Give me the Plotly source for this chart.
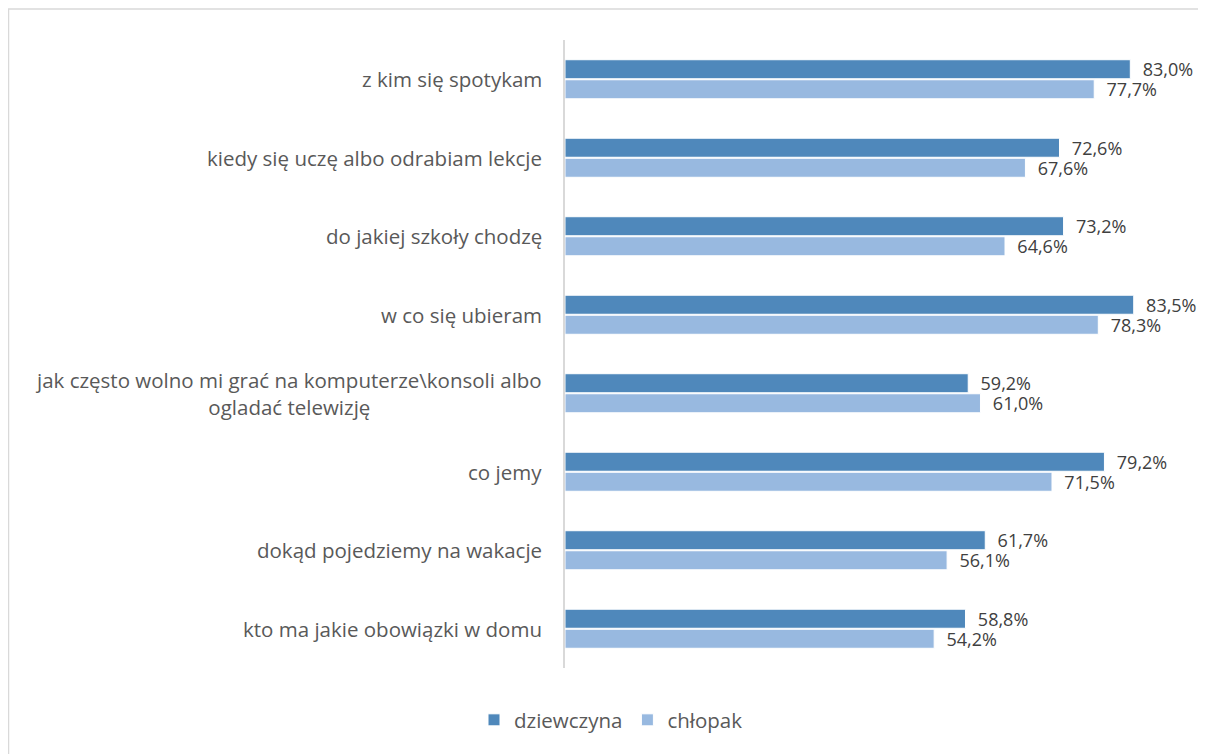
import plotly.graph_objects as go

categories = [
    "z kim się spotykam",
    "kiedy się uczę albo odrabiam lekcje",
    "do jakiej szkoły chodzę",
    "w co się ubieram",
    "jak często wolno mi grać na komputerze\\konsoli albo<br>ogladać telewizję",
    "co jemy",
    "dokąd pojedziemy na wakacje",
    "kto ma jakie obowiązki w domu",
]
dziewczyna = [83.0, 72.6, 73.2, 83.5, 59.2, 79.2, 61.7, 58.8]
chlopak = [77.7, 67.6, 64.6, 78.3, 61.0, 71.5, 56.1, 54.2]

def fmt(vals):
    return ["\u00a0\u00a0" + f"{v:.1f}%".replace(".", ",") for v in vals]

FONT = "Open Sans"
FS = 20.5
FS_LBL = 18
W, H = 1206, 754
OFF = 8  # page body margin
L, R, T, B = 565 - OFF, 28 + OFF, 40 - OFF, 86 + OFF
pw, ph = W - L - R, H - T - B

fig = go.Figure()
fig.add_trace(go.Bar(
    y=categories, x=dziewczyna, orientation="h", name="dziewczyna",
    marker=dict(color="#4F88BB", line=dict(color="#FFFFFF", width=1)),
    text=fmt(dziewczyna), textposition="outside", cliponaxis=False,
    constraintext="none",
    textfont=dict(family=FONT, size=FS_LBL, color="#404040"),
))
fig.add_trace(go.Bar(
    y=categories, x=chlopak, orientation="h", name="chłopak",
    marker=dict(color="#98B9E0", line=dict(color="#FFFFFF", width=1)),
    text=fmt(chlopak), textposition="outside", cliponaxis=False,
    constraintext="none",
    textfont=dict(family=FONT, size=FS_LBL, color="#404040"),
))

annotations = []
for c in categories:
    annotations.append(dict(
        x=-21 / pw, xref="paper", y=c, yref="y", text=c, showarrow=False,
        xanchor="right", yanchor="middle", align="center",
        font=dict(family=FONT, size=FS, color="#595959"),
    ))

shapes = [dict(
    type="rect", xref="paper", yref="paper",
    x0=(0.5 - L) / pw, x1=(1197 - L) / pw,
    y0=-(H + 10 - (H - B)) / ph, y1=1 + (T - 1) / ph,
    line=dict(color="#D9D9D9", width=1.5), fillcolor="rgba(0,0,0,0)", layer="below",
)]

fig.update_layout(
    width=W, height=H,
    margin=dict(l=L, r=R, t=T, b=B),
    paper_bgcolor="white", plot_bgcolor="white",
    barmode="group", bargap=0.49, bargroupgap=0.05,
    font=dict(family=FONT, size=FS, color="#595959"),
    xaxis=dict(range=[0, 90], visible=False, showgrid=False, zeroline=False),
    yaxis=dict(autorange="reversed", showticklabels=False, showgrid=False,
               zeroline=False, showline=True, linecolor="#D9D9D9", linewidth=1.5,
               ticks=""),
    legend=dict(orientation="h", xref="container", yref="container",
                x=0.50, y=1 - (720 - OFF) / H, xanchor="center", yanchor="middle",
                font=dict(family=FONT, size=FS, color="#595959"),
                itemwidth=30, traceorder="normal"),
    annotations=annotations, shapes=shapes,
)

fig.write_html("out.html")
